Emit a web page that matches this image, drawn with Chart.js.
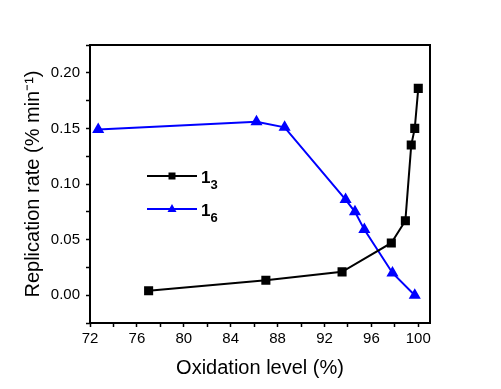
<!DOCTYPE html>
<html>
<head>
<meta charset="utf-8">
<script src="https://cdn.jsdelivr.net/npm/chart.js@4"></script>
<style>
html, body { margin: 0; padding: 0; background: #fff; }
</style>
</head>
<body>
<canvas id="canvas" width="501" height="389"></canvas>
<script>
// oxidation level (%) and replication rate (% min-1)
const ox13 = [77, 87, 93.5, 97.7, 98.9, 99.4, 99.7, 100];
const rate13 = [0.004, 0.0135, 0.021, 0.047, 0.067, 0.135, 0.150, 0.186];
const ox16 = [72.7, 86.2, 88.6, 93.8, 94.6, 95.4, 97.8, 99.7];
const rate16 = [0.149, 0.156, 0.151, 0.086, 0.075, 0.059, 0.020, 0.000];
const seriesMain = ['1', '1'];
const seriesSub = ['3', '6'];
const xLabels = [72, 76, 80, 84, 88, 92, 96, 100];
const yLabels = [0.00, 0.05, 0.10, 0.15, 0.20];

const FONT = 'Arial, "Liberation Sans", sans-serif';

function toPoints(xs, ys) {
    return xs.map(function (x, i) { return {x: x, y: ys[i]}; });
}

function isLabelled(list, v) {
    return list.some(function (l) { return Math.abs(l - v) < 1e-6; });
}

// box around the plot + the inset legend
const framePlugin = {
    id: 'frame',
    afterDatasetsDraw: function (chart) {
        const ctx = chart.ctx;
        const a = chart.chartArea;
        ctx.save();
        ctx.strokeStyle = '#000';
        ctx.lineWidth = 2;
        ctx.strokeRect(a.left, a.top, a.right - a.left, a.bottom - a.top);

        chart.data.datasets.forEach(function (ds, i) {
            const y = a.top + 131 + i * 33;
            const x0 = a.left + 57, x1 = a.left + 107, xm = (x0 + x1) / 2;
            ctx.strokeStyle = ds.borderColor;
            ctx.fillStyle = ds.borderColor;
            ctx.lineWidth = 2;
            ctx.beginPath();
            ctx.moveTo(x0, y);
            ctx.lineTo(x1, y);
            ctx.stroke();
            ctx.beginPath();
            if (ds.pointStyle === 'rect') {
                ctx.rect(xm - 3.5, y - 3.5, 7, 7);
            } else {
                ctx.moveTo(xm, y - 5);
                ctx.lineTo(xm + 4.5, y + 3);
                ctx.lineTo(xm - 4.5, y + 3);
                ctx.closePath();
            }
            ctx.fill();
            ctx.fillStyle = '#000';
            ctx.textBaseline = 'alphabetic';
            ctx.font = 'bold 17px ' + FONT;
            ctx.fillText(seriesMain[i], x1 + 4, y + 7);
            const w = ctx.measureText(seriesMain[i]).width;
            ctx.font = 'bold 13px ' + FONT;
            ctx.fillText(seriesSub[i], x1 + 4 + w, y + 13);
        });
        ctx.restore();
    }
};

const config = {
    type: 'scatter',
    data: {
        datasets: [{
            label: '13',
            data: toPoints(ox13, rate13),
            showLine: true,
            borderColor: '#000000',
            backgroundColor: '#000000',
            borderWidth: 2,
            pointStyle: 'rect',
            pointRadius: 5,
            pointHoverRadius: 5
        }, {
            label: '16',
            data: toPoints(ox16, rate16),
            showLine: true,
            borderColor: '#0000ff',
            backgroundColor: '#0000ff',
            borderWidth: 2,
            pointStyle: 'triangle',
            pointRadius: 5,
            pointHoverRadius: 5
        }]
    },
    options: {
        responsive: false,
        animation: false,
        events: [],
        layout: {padding: {top: 45, right: 71, left: 0, bottom: 0}},
        plugins: {legend: {display: false}, tooltip: {enabled: false}},
        scales: {
            x: {
                type: 'linear',
                min: 72,
                max: 101,
                afterFit: function (s) { s.height = 66; },
                afterBuildTicks: function (s) {
                    const t = [];
                    for (let v = 72; v <= 100; v += 2) t.push({value: v});
                    s.ticks = t;
                },
                border: {display: false},
                grid: {drawOnChartArea: false, tickLength: 4, tickColor: '#000', tickWidth: 1.5},
                ticks: {
                    autoSkip: false,
                    maxRotation: 0,
                    padding: 3,
                    color: '#000',
                    font: {family: FONT, size: 15},
                    callback: function (v) { return isLabelled(xLabels, v) ? String(v) : ''; }
                },
                title: {
                    display: true,
                    text: 'Oxidation level (%)',
                    color: '#000',
                    font: {family: FONT, size: 20},
                    padding: {top: 0, bottom: 9}
                }
            },
            y: {
                type: 'linear',
                min: -0.025,
                max: 0.225,
                afterFit: function (s) { s.width = 90; },
                border: {display: false},
                grid: {drawOnChartArea: false, tickLength: 4, tickColor: '#000', tickWidth: 1.5},
                ticks: {
                    stepSize: 0.025,
                    autoSkip: false,
                    padding: 6,
                    color: '#000',
                    font: {family: FONT, size: 15},
                    callback: function (v) { return isLabelled(yLabels, v) ? v.toFixed(2) : ''; }
                },
                title: {
                    display: true,
                    text: 'Replication rate (% min⁻¹)',
                    color: '#000',
                    font: {family: FONT, size: 20},
                    padding: {top: 21, bottom: 0}
                }
            }
        }
    },
    plugins: [framePlugin]
};

const chart = new Chart(document.getElementById('canvas').getContext('2d'), config);
</script>
</body>
</html>
